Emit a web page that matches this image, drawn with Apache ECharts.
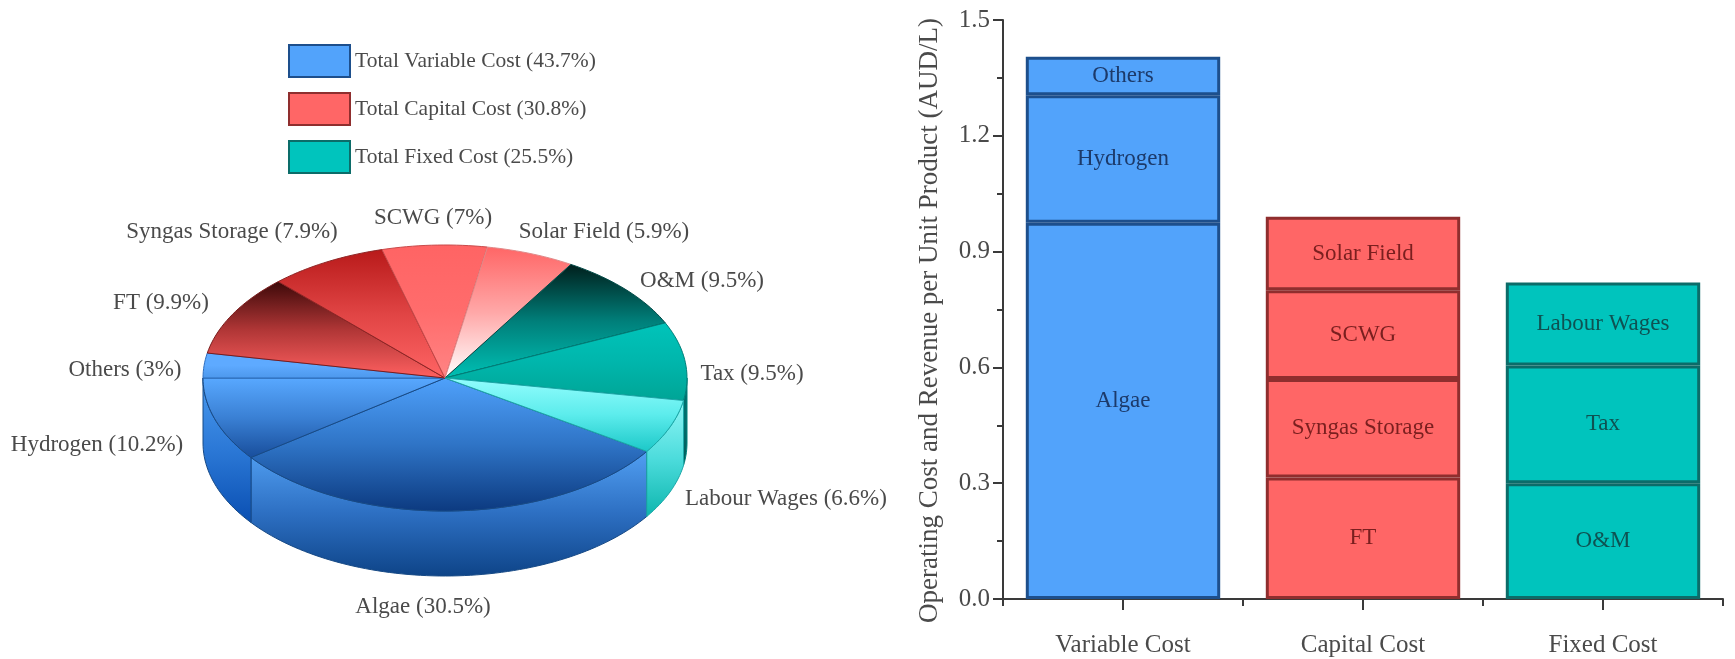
<!DOCTYPE html>
<html>
<head>
<meta charset="utf-8">
<style>html,body{margin:0;padding:0;background:#fff}#chart{width:1735px;height:659px}</style>
<script src="https://cdn.jsdelivr.net/npm/echarts@6/dist/echarts.min.js"></script>
</head>
<body>
<div id="chart"></div>
<script>
// Cost shares shown on the pie, clockwise from the Algae slice (percent)
const pieNames = ['Algae','Hydrogen','Others','FT','Syngas Storage','SCWG','Solar Field','O&M','Tax','Labour Wages'];
const pieShares = [30.5,10.2,3,9.9,7.9,7,5.9,9.5,9.5,6.6];

// Legend entries for the three cost groups
const groupNames = ['Total Variable Cost (43.7%)','Total Capital Cost (30.8%)','Total Fixed Cost (25.5%)'];

// Stacked bar values (AUD/L)
const barCategories = ['Variable Cost','Capital Cost','Fixed Cost'];
const variableNames = ['Algae','Hydrogen','Others'];
const variableValues = [0.975,0.33,0.10];
const capitalNames = ['FT','Syngas Storage','SCWG','Solar Field'];
const capitalValues = [0.315,0.255,0.23,0.19];
const fixedNames = ['O&M','Tax','Labour Wages'];
const fixedValues = [0.30,0.305,0.215];
const yTicks = {min:0,max:1.5,interval:0.3};

// Drawing styles
const serif = '"Liberation Serif","DejaVu Serif",serif';
const textGrey = '#4a4a4a';
const axisColor = '#3a3a3a';
const groupStyle = [
  {fill:'#52a3fb',edge:'#1d4f8c',text:'#1c3a6a'},
  {fill:'#ff6666',edge:'#8f2e2e',text:'#7a1f1f'},
  {fill:'#00c4bd',edge:'#0c6c69',text:'#0e5252'}
];
const pieFrame = {cx:445,cy:378,rx:242,ry:133,depth:65,startDeg:33.5};
const pieLabelCentres = [[423,607],[97,445],[125,370],[161,303],[232,232],[433,218],[604,232],[702,281],[752,374],[786,499]];
const pieEdges = ['#174a86','#174a86','#2e6fc0','#7a1c1c','#8f2525','#c94a4a','#e08a8a','#004a47','#00807a','#1ba8a8'];
// Vertical shading of each top face: upper colour to lower colour
const topShades = [
  ['#4fa1fb','#2f74c6','#0c3a80'],['#58a8ff','#3a80d4','#184e9c'],['#5eaaff','#5eaaff','#4d98ec'],
  ['#3d0909','#b03636','#ff6060'],['#b81a1a','#e04444','#ff6464'],['#ff6464','#ff6c6c','#ff8484'],
  ['#ff6666','#ffa8a8','#ffffff'],['#001f1c','#007f7a','#00c0b4'],['#00c4ba','#00b6ac','#00a596'],
  ['#92fdfd','#5cecec','#1cc8c8']
];
// Shading of the outer wall, for the slices that face the viewer
const wallShades = {
  0:['#519ff2','#2d6fc2','#0e4488'],
  1:['#4b9bf0','#2b78d6','#0a4fb2'],
  8:['#006e6c','#006e6c','#005a58'],
  9:['#90f6f6','#4cdcdc','#0eb6ae']
};

const toRad = d => d*Math.PI/180;
const rimPoint = d => [pieFrame.cx+pieFrame.rx*Math.cos(toRad(d)),pieFrame.cy+pieFrame.ry*Math.sin(toRad(d))];
function arcPoints(from,to){
  const pts=[],n=Math.max(2,Math.ceil(Math.abs(to-from)/1.5));
  for(let i=0;i<=n;i++) pts.push(rimPoint(from+(to-from)*i/n));
  return pts;
}
function shade(stops,y0,y1){
  return new echarts.graphic.LinearGradient(0,y0,0,y1,[
    {offset:0,color:stops[0]},{offset:0.5,color:stops[1]},{offset:1,color:stops[2]}
  ],true);
}
const shareTotal = pieShares.reduce((a,b)=>a+b,0);
const sliceStart = [];
pieShares.reduce((acc,v,i)=>{sliceStart[i]=acc;return acc+v;},0);

function renderSlice(params,api){
  const i=params.dataIndex;
  const from=pieFrame.startDeg+sliceStart[i]/shareTotal*360;
  const to=from+api.value(0)/shareTotal*360;
  const rim=arcPoints(from,to);
  const ys=rim.map(p=>p[1]).concat(pieFrame.cy);
  const children=[];
  // The outer wall only shows along the front half of the ellipse
  const segs=[[from,to],[from-360,to-360]];
  segs.forEach(([a,b])=>{
    const lo=Math.max(a,0),hi=Math.min(b,180);
    if(hi<=lo||!wallShades[i]) return;
    const top=arcPoints(lo,hi);
    const bottom=top.slice().reverse().map(p=>[p[0],p[1]+pieFrame.depth]);
    const wy=top.map(p=>p[1]);
    children.push({type:'polygon',shape:{points:top.concat(bottom)},style:{
      fill:shade(wallShades[i],Math.min(...wy),Math.max(...wy)+pieFrame.depth),
      stroke:pieEdges[i],lineWidth:1}});
  });
  children.push({type:'polygon',shape:{points:[[pieFrame.cx,pieFrame.cy]].concat(rim)},style:{
    fill:shade(topShades[i],Math.min(...ys),Math.max(...ys)),
    stroke:pieEdges[i],lineWidth:1}});
  const [lx,ly]=pieLabelCentres[i];
  children.push({type:'text',style:{
    x:lx,y:ly,text:`${pieNames[i]} (${pieShares[i]}%)`,align:'center',verticalAlign:'middle',
    fill:textGrey,font:`23px ${serif}`}});
  return {type:'group',children};
}

function stackSeries(names,values,groupIndex){
  const st=groupStyle[groupIndex];
  return names.map((name,k)=>{
    const data=barCategories.map((_,c)=>c===groupIndex?values[k]:null);
    return {
      type:'bar',name,stack:'cost',data,barWidth:'81%',xAxisIndex:0,
      itemStyle:{color:st.fill,borderColor:st.edge,borderWidth:3},
      label:{show:true,position:'inside',formatter:name,color:st.text,
        fontFamily:serif,fontSize:23,offset:name==='Algae'?[0,-10]:[0,0]},
      emphasis:{disabled:true}
    };
  });
}

const chart=echarts.init(document.getElementById('chart'));
chart.setOption({
  animation:false,
  backgroundColor:'#fff',
  legend:{
    orient:'vertical',left:288,top:44,padding:0,itemWidth:61,itemHeight:32,itemGap:14,
    icon:'rect',selectedMode:false,data:groupNames,
    textStyle:{fontFamily:serif,fontSize:21.5,color:textGrey}
  },
  grid:{left:1003,width:720,top:20,height:579,containLabel:false},
  xAxis:[
    {type:'category',data:barCategories,
     axisLine:{lineStyle:{color:axisColor,width:2}},
     axisTick:{show:true,alignWithLabel:true,length:11,lineStyle:{color:axisColor,width:2}},
     axisLabel:{fontFamily:serif,fontSize:25,color:textGrey,margin:34}},
    {type:'category',data:barCategories,position:'bottom',
     axisLine:{show:false},axisLabel:{show:false},
     axisTick:{show:true,length:7,lineStyle:{color:axisColor,width:2}}}
  ],
  yAxis:{
    type:'value',min:yTicks.min,max:yTicks.max,interval:yTicks.interval,
    name:'Operating Cost and Revenue per Unit Product (AUD/L)',
    nameLocation:'middle',nameGap:60,
    nameTextStyle:{fontFamily:serif,fontSize:27,color:textGrey,padding:[0,0,0,-22]},
    axisLine:{show:true,onZero:false,lineStyle:{color:axisColor,width:2}},
    axisTick:{show:true,length:10,lineStyle:{color:axisColor,width:2}},
    minorTick:{show:true,splitNumber:2,length:6,lineStyle:{color:axisColor,width:2}},
    splitLine:{show:false},minorSplitLine:{show:false},
    axisLabel:{fontFamily:serif,fontSize:25,color:textGrey,margin:13,
      formatter:v=>v.toFixed(1)}
  },
  series:[
    ...stackSeries(variableNames,variableValues,0),
    ...stackSeries(capitalNames,capitalValues,1),
    ...stackSeries(fixedNames,fixedValues,2),
    // Empty series that give the legend its three swatches
    ...groupNames.map((name,g)=>({
      type:'bar',name,stack:'cost',data:[],
      itemStyle:{color:groupStyle[g].fill,borderColor:groupStyle[g].edge,borderWidth:1.5}
    })),
    {
      type:'custom',name:'Cost shares',coordinateSystem:'none',clip:false,
      data:pieShares.map(v=>[v]),renderItem:renderSlice,silent:true
    }
  ]
});
</script>
</body>
</html>
